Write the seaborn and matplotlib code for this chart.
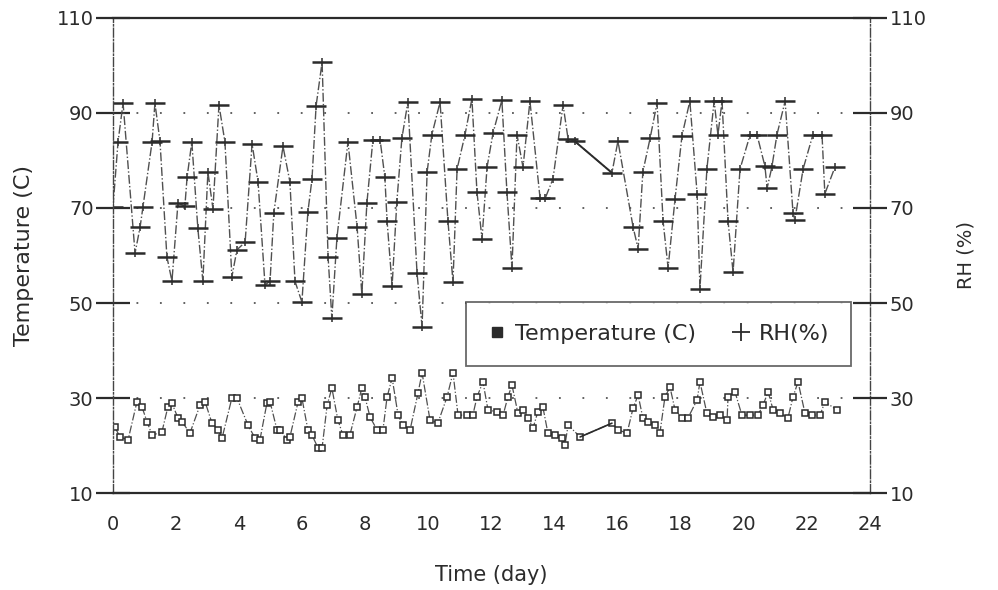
import matplotlib
matplotlib.use("Agg")
import matplotlib.pyplot as plt
from matplotlib.lines import Line2D
import seaborn as sns
import pandas as pd

# RH (%) readings, days since start
rh_day = [0.00, 0.16, 0.32, 0.70, 0.86, 0.95, 1.24, 1.33, 1.49, 1.71, 1.87, 2.06, 2.28, 2.35,
          2.50, 2.69, 2.85, 3.01, 3.17, 3.36, 3.55, 3.77, 3.93, 4.19, 4.41, 4.60, 4.82, 4.98,
          5.10, 5.39, 5.61, 5.77, 5.99, 6.18, 6.31, 6.44, 6.63, 6.82, 6.94, 7.10, 7.45, 7.74,
          7.89, 8.05, 8.24, 8.47, 8.62, 8.69, 8.85, 9.00, 9.16, 9.35, 9.64, 9.80, 9.96, 10.11,
          10.37, 10.62, 10.78, 10.91, 11.16, 11.38, 11.54, 11.70, 11.86, 12.05, 12.33, 12.49,
          12.65, 12.81, 13.00, 13.22, 13.54, 13.70, 13.95, 14.27, 14.43, 14.65, 15.82, 16.01,
          16.49, 16.65, 16.80, 17.03, 17.25, 17.44, 17.60, 17.82, 18.04, 18.29, 18.52, 18.61,
          18.83, 19.06, 19.18, 19.31, 19.50, 19.66, 19.88, 20.20, 20.42, 20.67, 20.74, 20.89,
          21.05, 21.31, 21.56, 21.62, 21.88, 22.19, 22.48, 22.57, 22.89]
rh_val = [70.2, 83.9, 92.1, 60.5, 66.0, 70.2, 83.9, 92.1, 84.1, 59.7, 54.6, 71.0, 70.4, 76.5,
          83.9, 65.8, 54.6, 77.6, 69.8, 91.7, 83.9, 55.5, 61.2, 62.8, 83.5, 75.5, 53.8, 54.6,
          69.0, 83.0, 75.5, 54.6, 50.2, 69.2, 76.1, 91.5, 100.7, 59.7, 46.8, 63.7, 83.9, 66.0,
          51.9, 71.0, 84.3, 84.3, 76.5, 67.3, 53.6, 71.3, 84.7, 92.3, 56.3, 45.0, 77.6, 85.4,
          92.3, 67.3, 54.4, 78.2, 85.4, 93.0, 73.4, 63.5, 78.6, 85.8, 92.7, 73.4,
          57.4, 85.4, 78.6, 92.5, 72.1, 72.0, 76.1, 91.7, 84.5, 84.0, 77.4, 84.1,
          66.0, 61.4, 77.6, 84.7, 92.1, 67.3, 57.4, 71.9, 85.2, 92.5, 73.0, 53.0,
          78.2, 92.5, 85.4, 92.5, 67.3, 56.5, 78.2, 85.4, 85.4, 78.8, 74.2, 78.6,
          85.4, 92.5, 69.0, 67.5, 78.2, 85.4, 85.4, 73.0, 78.6]

# Temperature (C) readings
t_day = [0.06, 0.22, 0.48, 0.76, 0.92, 1.08, 1.24, 1.55, 1.74, 1.87, 2.06, 2.19, 2.44, 2.76,
         2.92, 3.14, 3.33, 3.46, 3.77, 3.93, 4.28, 4.50, 4.66, 4.88, 4.98, 5.20, 5.29, 5.52,
         5.61, 5.87, 5.99, 6.18, 6.31, 6.50, 6.63, 6.79, 6.94, 7.13, 7.29, 7.51, 7.74, 7.89,
         7.99, 8.15, 8.37, 8.56, 8.69, 8.85, 9.04, 9.19, 9.42, 9.67, 9.80, 10.05, 10.30, 10.59,
         10.78, 10.94, 11.22, 11.41, 11.54, 11.73, 11.89, 12.17, 12.37, 12.52, 12.65, 12.84,
         13.00, 13.16, 13.32, 13.47, 13.63, 13.79, 14.01, 14.24, 14.33, 14.43, 14.81, 15.82,
         16.01, 16.30, 16.49, 16.65, 16.80, 16.96, 17.18, 17.34, 17.50, 17.66, 17.82, 18.04,
         18.23, 18.52, 18.61, 18.83, 19.02, 19.25, 19.47, 19.50, 19.72, 19.94, 20.20, 20.45,
         20.61, 20.77, 20.93, 21.15, 21.40, 21.56, 21.72, 21.94, 22.16, 22.42, 22.57, 22.95]
t_val = [23.9, 21.8, 21.2, 29.2, 28.1, 25.0, 22.2, 22.8, 28.1, 28.9, 25.8, 25.0, 22.6, 28.5,
         29.2, 24.7, 23.3, 21.6, 30.0, 30.0, 24.3, 21.6, 21.2, 28.9, 29.2, 23.3, 23.3, 21.2,
         21.8, 29.2, 30.0, 23.3, 22.2, 19.5, 19.5, 28.5, 32.1, 25.4, 22.2, 22.2, 28.1, 32.1,
         30.2, 26.0, 23.3, 23.3, 30.2, 34.2, 26.4, 24.3, 23.3, 31.0, 35.3, 25.4, 24.7, 30.2,
         35.3, 26.4, 26.4, 26.4, 30.2, 33.4, 27.5, 27.1, 26.4, 30.2, 32.7, 26.8,
         27.5, 25.8, 23.7, 27.1, 28.1, 22.6, 22.2, 21.6, 20.1, 24.3, 21.8, 24.7,
         23.3, 22.6, 27.9, 30.6, 25.8, 25.0, 24.3, 22.6, 30.2, 32.3, 27.5, 25.8,
         25.8, 29.6, 33.4, 26.8, 26.0, 26.4, 25.4, 30.2, 31.3, 26.4, 26.4, 26.4,
         28.5, 31.3, 27.5, 26.8, 25.8, 30.2, 33.4, 26.8, 26.4, 26.4, 29.2, 27.5]

y_ticks = [10, 30, 50, 70, 90, 110]
x_ticks = list(range(0, 25, 2))

rh = pd.DataFrame({"day": rh_day, "rh": rh_val})
temp = pd.DataFrame({"day": t_day, "temp": t_val})

sns.set_style("white")
plt.rcParams["font.family"] = ["DejaVu Sans"]
ink = "#2b2b2b"

fig = plt.figure(figsize=(9.98, 5.90), dpi=100)
ax = fig.add_axes([0.1132, 0.1644, 0.7585, 0.8051])

# dotted guide lines
for yv in y_ticks[1:-1]:
    ax.axhline(yv, color="#555555", lw=1.3, ls=(0, (1, 12)), zorder=0)

# RH series: dash-dot line, wide "+" markers
sns.lineplot(data=rh, x="day", y="rh", sort=False, estimator=None, ax=ax,
             color="#505050", lw=1.0, linestyle="-.", marker="_", markersize=15,
             markeredgewidth=1.8, markeredgecolor=ink)
sns.scatterplot(data=rh, x="day", y="rh", ax=ax, marker="|", s=36,
                color=ink, linewidth=1.1)
# gap in logging drawn as solid segment
sns.lineplot(data=rh.iloc[77:79], x="day", y="rh", sort=False, estimator=None,
             ax=ax, color=ink, lw=1.4)

# Temperature series: small hollow squares
sns.lineplot(data=temp, x="day", y="temp", sort=False, estimator=None, ax=ax,
             color="#505050", lw=0.9, linestyle="-.", marker="s", markersize=4.5,
             markerfacecolor="white", markeredgecolor=ink, markeredgewidth=1.1)
sns.lineplot(data=temp.iloc[78:80], x="day", y="temp", sort=False, estimator=None,
             ax=ax, color=ink, lw=1.2)

ax.set_xlim(0, 24)
ax.set_ylim(10, 110)
ax.set_xticks(x_ticks)
ax.set_yticks(y_ticks)
ax.set_xlabel("Time (day)", fontsize=15, color=ink, labelpad=22)
ax.set_ylabel("Temperature (C)", fontsize=16, color=ink, labelpad=16)

ax.tick_params(axis="y", direction="inout", length=24, width=1.6, colors=ink,
               labelsize=14, pad=2)
ax.tick_params(axis="x", direction="in", length=6, width=1.2, colors=ink,
               labelsize=14, pad=16)

for side in ["left", "right"]:
    ax.spines[side].set_linestyle("-.")
    ax.spines[side].set_linewidth(1.0)
    ax.spines[side].set_color("#444444")
for side in ["top", "bottom"]:
    ax.spines[side].set_linewidth(1.6)
    ax.spines[side].set_color(ink)

# right-hand RH axis (same scale)
ax2 = ax.twinx()
ax2.set_ylim(10, 110)
ax2.set_yticks(y_ticks)
ax2.tick_params(axis="y", direction="inout", length=24, width=1.6, colors=ink,
                labelsize=14, pad=2)
ax2.set_ylabel("RH (%)", fontsize=14, color=ink, labelpad=22)
for s in ax2.spines.values():
    s.set_visible(False)

handles = [
    Line2D([], [], color=ink, marker="s", markersize=7, ls="", label="Temperature (C)"),
    Line2D([], [], color=ink, marker="+", markersize=13, mew=1.3, ls="", label="RH(%)"),
]
leg = ax.legend(handles=handles, ncol=2, loc="center", bbox_to_anchor=(0.721, 0.335),
                fontsize=16, frameon=True, fancybox=False, edgecolor="#444444",
                handlelength=0.8, handletextpad=0.4, columnspacing=1.6,
                borderpad=1.0, borderaxespad=0, labelcolor=ink)
leg.get_frame().set_linewidth(1.3)

fig.savefig("out.png", dpi=100, facecolor="white")
